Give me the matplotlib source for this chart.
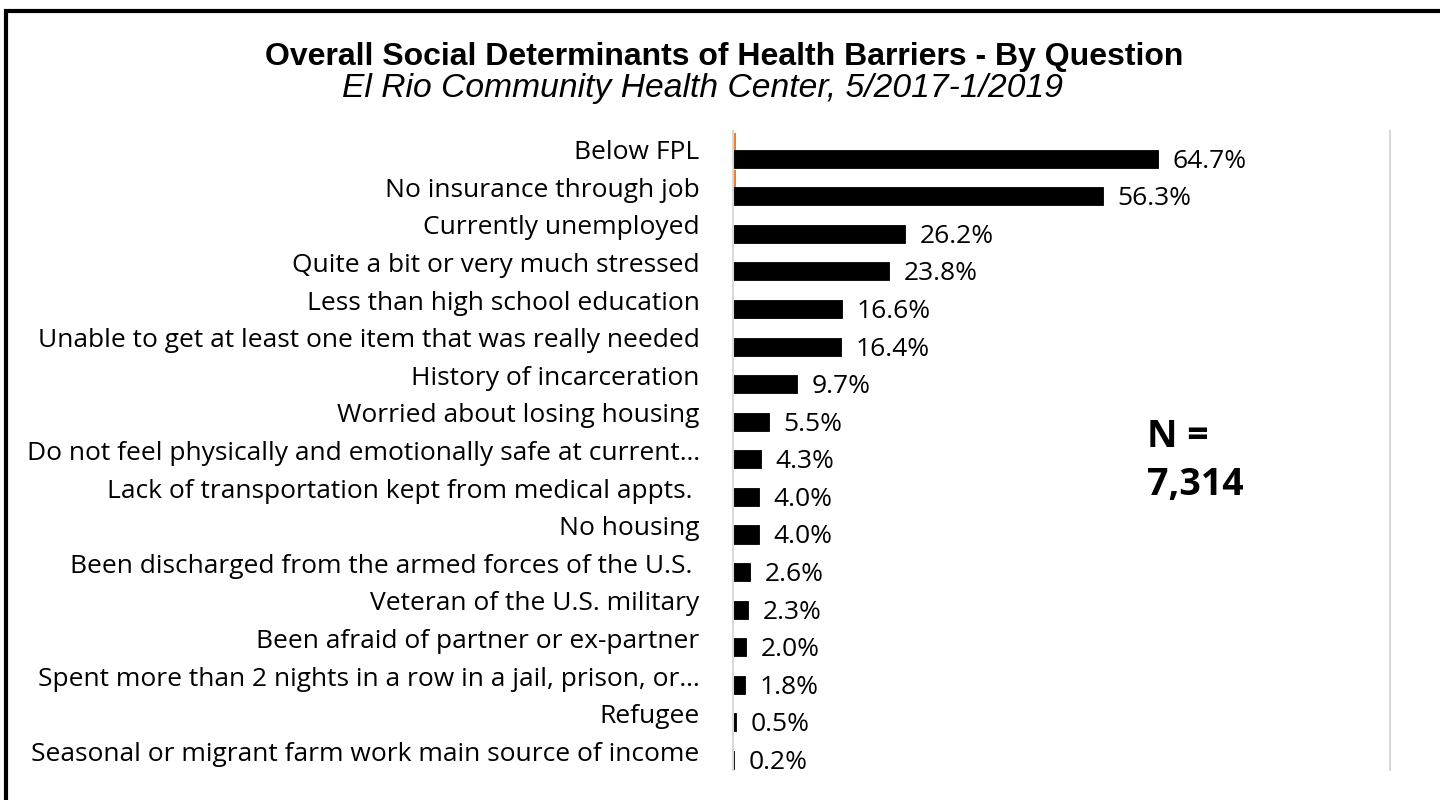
import matplotlib
matplotlib.use("Agg")
from matplotlib import pyplot as plt
from matplotlib.patches import Rectangle

categories = [
    "Below FPL",
    "No insurance through job",
    "Currently unemployed",
    "Quite a bit or very much stressed",
    "Less than high school education",
    "Unable to get at least one item that was really needed",
    "History of incarceration",
    "Worried about losing housing",
    "Do not feel physically and emotionally safe at current\u2026",
    "Lack of transportation kept from medical appts. ",
    "No housing",
    "Been discharged from the armed forces of the U.S. ",
    "Veteran of the U.S. military",
    "Been afraid of partner or ex-partner",
    "Spent more than 2 nights in a row in a jail, prison, or\u2026",
    "Refugee",
    "Seasonal or migrant farm work main source of income",
]
overall = [64.7, 56.3, 26.2, 23.8, 16.6, 16.4, 9.7, 5.5, 4.3, 4.0, 4.0,
           2.6, 2.3, 2.0, 1.8, 0.5, 0.2]
# faint second series, barely visible at the top rows
second = [0.45, 0.4, 0.15, 0, 0, 0, 0, 0, 0, 0, 0, 0, 0, 0, 0, 0, 0]

label_font = ["Open Sans", "DejaVu Sans"]

fig = plt.figure(figsize=(14.4, 8), dpi=100)
ax = fig.add_axes([733 / 1440, 30 / 800, 657 / 1440, 639 / 800])

pos = list(range(len(categories)))
ax.barh([p - 0.22 for p in pos], second, height=0.46, color="#ED7D31")
ax.barh([p + 0.235 for p in pos], overall, height=0.48, color="black",
        edgecolor="black", linewidth=0.6)

for p, v in zip(pos, overall):
    ax.text(v + 2.2, p + 0.3, f"{v:.1f}%", va="center", ha="left",
            fontsize=19, family=label_font)

ax.set_xlim(0, 100)
ax.set_ylim(len(categories) - 0.5, -0.5)
ax.set_xticks([])
ax.set_yticks(pos)
ax.set_yticklabels(categories, fontsize=19, family=label_font)
ax.tick_params(axis="y", length=0, pad=24)
for s in ["top", "bottom"]:
    ax.spines[s].set_visible(False)
ax.spines["left"].set_color("#d9d9d9")
ax.spines["left"].set_linewidth(1.5)
ax.spines["right"].set_color("#d9d9d9")
ax.spines["right"].set_linewidth(1.5)

fig.text(724 / 1440, 1 - 57 / 800, "Overall Social Determinants of Health Barriers - By Question",
         ha="center", va="center", fontsize=23, fontweight="bold",
         family="Liberation Sans")
fig.text(703 / 1440, 1 - 89 / 800, "El Rio Community Health Center, 5/2017-1/2019",
         ha="center", va="center", fontsize=24.2, style="italic",
         family="Liberation Sans")

fig.text(1147 / 1440, 1 - 437 / 800, "N =", ha="left", va="center",
         fontsize=27, fontweight="bold", family=label_font)
fig.text(1147 / 1440, 1 - 485 / 800, "7,314", ha="left", va="center",
         fontsize=27, fontweight="bold", family=label_font)

# frame: only top and left edges are inside the picture
fig.patches.append(Rectangle((6 / 1440, -0.1), 1.2, 1 - 11 / 800 + 0.1,
                             transform=fig.transFigure, fill=False,
                             edgecolor="black", linewidth=3))

fig.savefig("out.png", dpi=100)
